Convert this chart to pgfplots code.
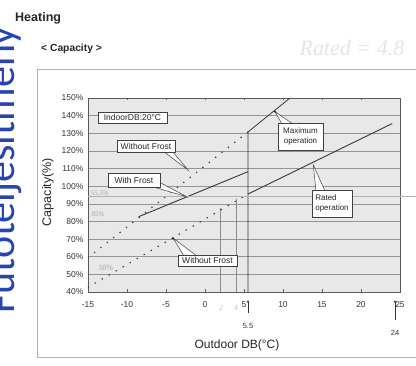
\documentclass[border=0pt]{standalone}
\usepackage{pgfplots}
\pgfplotsset{compat=1.18}
\usetikzlibrary{arrows.meta}
\usepackage{fontspec}
\setmainfont{Liberation Sans}
\newfontfamily\calfont{Carlito}
\newfontfamily\handfont{Liberation Serif}
\definecolor{wmblue}{RGB}{38,68,178}
\definecolor{ink}{RGB}{55,55,55}
\begin{document}
\begin{tikzpicture}
\useasboundingbox (0,0) rectangle (416pt,366pt);
% watermark text on the left, cut by the edge
\begin{scope}
\clip (0,0) rectangle (416pt,366pt);
\node[rotate=90, anchor=base west, inner sep=0pt, text=wmblue, font=\calfont\fontsize{42}{42}\selectfont] at (14pt,52pt) {Fűtőteljesítmény};
\end{scope}

\begin{axis}[
  at={(88pt,74pt)}, anchor=south west,
  scale only axis, width=312pt, height=194pt,
  xmin=-15, xmax=25, ymin=40, ymax=150,
  xtick={-15,-10,...,25}, ytick={40,50,...,150},
  yticklabel={\pgfmathprintnumber{\tick}\%},
  ymajorgrids, grid style={black!42, line width=0.45pt},
  axis background/.style={fill=black!9},
  axis line style={black!65, line width=0.6pt},
  tick style={black!60, line width=0.4pt},
  tick align=inside, major tick length=2.5pt,
  ytick style={draw=none},
  tick label style={font=\fontsize{8.5}{9}\selectfont, text=black!80},
  xticklabel shift=6pt,
  yticklabel shift=1pt,
  /pgf/number format/assume math mode=true,
  clip=true,
]
% handwritten drop lines
\addplot[black!45, line width=0.4pt] coordinates {(2,40) (2,87.5)};
\addplot[black!45, line width=0.4pt] coordinates {(4,40) (4,92.5)};
% Without frost (upper, dotted)
\addplot[ink, line width=1.3pt, line cap=round, dash pattern=on 0.6pt off 7.5pt] coordinates {(-15,59.5) (5.5,130.7)};
% Without frost (lower, dotted)
\addplot[ink, line width=1.3pt, line cap=round, dash pattern=on 0.6pt off 7.5pt] coordinates {(-15,42.7) (5.5,95.5)};
% With frost
\addplot[ink, line width=0.9pt] coordinates {(-8.5,82.7) (5.5,108.2)};
% Maximum operation
\addplot[ink, line width=0.8pt] coordinates {(5.5,40) (5.5,130.7) (10.9,150)};
% Rated operation
\addplot[ink, line width=0.9pt] coordinates {(5.5,95.5) (24,135.5)};
\end{axis}

\begin{scope}[x=1pt, y=-1pt, yshift=366pt]
% outer frame
\draw[black!30, line width=0.6pt] (416,69) -- (37,69) -- (37,357) -- (416,357);
% faint scan line
\draw[black!30, line width=0.4pt] (88,196) -- (416,196);
% titles
\node[anchor=west, inner sep=0pt, font=\bfseries\fontsize{12.5}{13}\selectfont, text=black!85] at (15,18) {Heating};
\node[anchor=west, inner sep=0pt, font=\bfseries\fontsize{10.3}{11}\selectfont, text=black!85] at (41,49) {< Capacity >};
% handwritten notes
\node[anchor=center, inner sep=0pt, font=\handfont\itshape\fontsize{22}{22}\selectfont, text=black!10] at (352,48) {Rated = 4.8};
\node[inner sep=0pt, font=\handfont\itshape\fontsize{7}{7}\selectfont, text=black!35] at (100,193) {55.5\%};
\node[inner sep=0pt, font=\handfont\itshape\fontsize{7}{7}\selectfont, text=black!35] at (98,214) {85\%};
\node[inner sep=0pt, font=\handfont\itshape\fontsize{8}{8}\selectfont, text=black!35] at (106,268) {58\%};
\node[inner sep=0pt, font=\handfont\itshape\fontsize{7.5}{7.5}\selectfont, text=black!25] at (221,308) {2};
\node[inner sep=0pt, font=\handfont\itshape\fontsize{7.5}{7.5}\selectfont, text=black!25] at (236,308) {4};
% axis labels
\node[rotate=90, inner sep=0pt, font=\fontsize{12.5}{12}\selectfont, text=black!85] at (48,192) {Capacity(\%)};
\node[inner sep=0pt, font=\fontsize{12}{12}\selectfont, text=black!85] at (237,345) {Outdoor DB(\textdegree C)};
% markers 5.5 and 24
\draw[black!80, line width=0.6pt, -{Stealth[length=3pt,width=2.5pt]}] (248,313) -- (248,300);
\draw[black!80, line width=0.6pt, -{Stealth[length=3pt,width=2.5pt]}] (395,320) -- (395,300);
\node[inner sep=0pt, font=\fontsize{7.5}{8}\selectfont, text=black!80] at (248,326) {5.5};
\node[inner sep=0pt, font=\fontsize{7.5}{8}\selectfont, text=black!80] at (395,333) {24};
% callouts
\tikzset{cbox/.style={fill=white, draw=black!75, line width=0.5pt}, cwedge/.style={fill=white, draw=black!75, line width=0.5pt, line join=miter}}
% IndoorDB
\draw[cbox] (98,112) rectangle (167,123);
\node[inner sep=0pt, font=\fontsize{8.5}{9}\selectfont, text=black!85] at (132.5,117.7) {IndoorDB:20\textdegree C};
% Without Frost (upper)
\draw[cwedge] (163,151) -- (188,170) -- (172,151);
\draw[cbox] (117,140) rectangle (175,152);
\node[inner sep=0pt, font=\fontsize{8.5}{9}\selectfont, text=black!85] at (146,146.2) {Without Frost};
% With Frost
\draw[cwedge] (150,186) -- (186.7,196.7) -- (159,182);
\draw[cbox] (108,173) rectangle (160,187);
\node[inner sep=0pt, font=\fontsize{8.5}{9}\selectfont, text=black!85] at (134,180.2) {With Frost};
% Maximum operation
\draw[cwedge] (282,124) -- (275,111.7) -- (293,124);
\draw[cbox] (278,123) rectangle (323,150);
\node[inner sep=0pt, align=center, font=\fontsize{8}{10}\selectfont, text=black!85] at (300.5,136.5) {Maximum\\operation};
% Rated operation
\draw[cwedge] (316,191) -- (313.3,165) -- (325,191);
\draw[cbox] (312,190) rectangle (352,217);
\node[inner sep=0pt, align=left, font=\fontsize{8}{10}\selectfont, text=black!85] at (332,203.5) {Rated\phantom{ion}\\operation};
% Without Frost (lower)
\draw[cwedge] (184,256) -- (173.3,238.3) -- (197,256);
\draw[cbox] (178,255) rectangle (237,266);
\node[inner sep=0pt, font=\fontsize{8.5}{9}\selectfont, text=black!85] at (207.5,260.7) {Without Frost};
\fill[black] (173.3,238.3) circle (0.9);
\fill[black] (275,111.7) circle (0.9);
\end{scope}
\end{tikzpicture}
\end{document}
